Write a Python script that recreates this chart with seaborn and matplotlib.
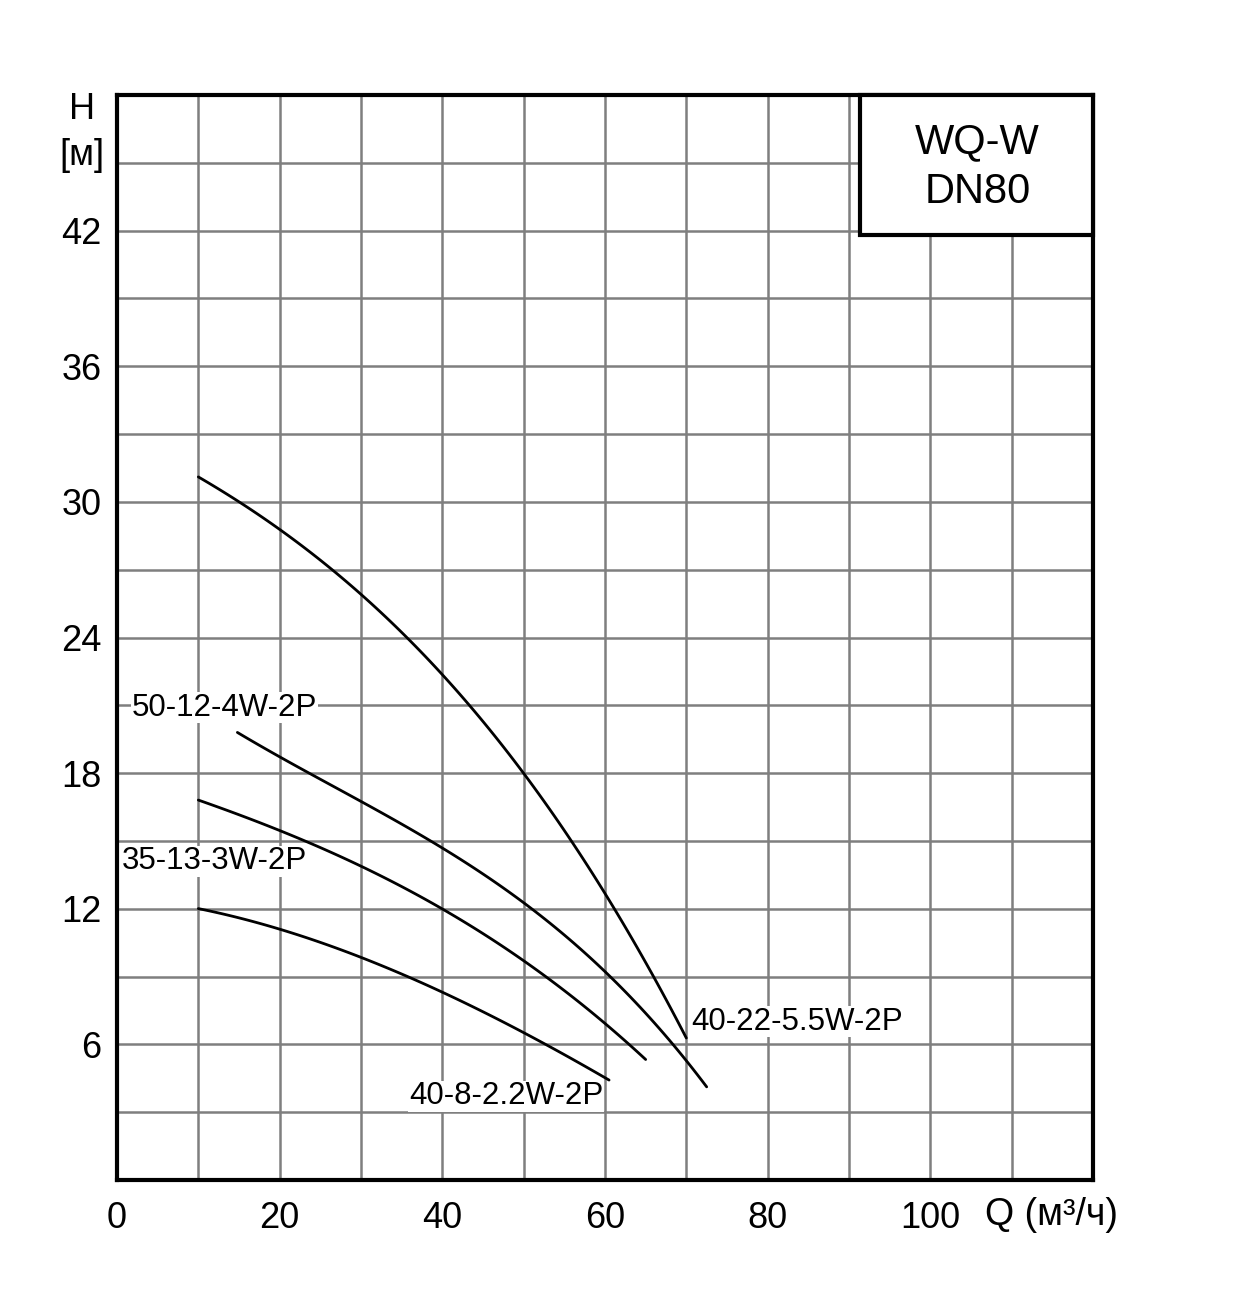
import numpy as np
import pandas as pd
import seaborn as sns
import matplotlib.pyplot as plt

# curvas H(Q)
q_5_5 = [10, 20, 30, 40, 50, 60, 70]
h_5_5 = [31.1, 28.8, 25.9, 22.3, 18.1, 12.6, 6.3]

q_4 = [14.8, 20, 30, 40, 45, 50, 60, 72.5]
h_4 = [19.8, 18.7, 16.8, 14.7, 13.5, 12.2, 9.3, 4.1]

q_3 = [10, 20, 30, 40, 50, 60, 65]
h_3 = [16.8, 15.5, 13.8, 12.1, 9.6, 7.0, 5.3]

q_2_2 = [10, 20, 30, 40, 50, 60.5]
h_2_2 = [12.0, 11.1, 9.9, 8.2, 6.6, 4.4]

nomes = ["40-22-5.5W-2P", "50-12-4W-2P", "35-13-3W-2P", "40-8-2.2W-2P"]

frames = []
for nome, q, h in zip(nomes, [q_5_5, q_4, q_3, q_2_2], [h_5_5, h_4, h_3, h_2_2]):
    frames.append(pd.DataFrame({"Q": q, "H": h, "modelo": nome}))
df = pd.concat(frames, ignore_index=True)

sns.set_style("white")
plt.rcParams['font.family'] = ['Liberation Sans', 'DejaVu Sans']
plt.rcParams['text.color'] = 'black'
plt.rcParams['xtick.color'] = 'black'
plt.rcParams['ytick.color'] = 'black'

fig = plt.figure(figsize=(12.4, 12.99), dpi=100)
ax = fig.add_axes([117 / 1240, 1 - 1180 / 1299, (1093 - 117) / 1240, (1180 - 95) / 1299])

# curvas suavizadas (polinômio de 3º grau por curva)
for nome in nomes:
    d = df[df["modelo"] == nome]
    coef = np.polyfit(d["Q"], d["H"], 3)
    xs = np.linspace(d["Q"].min(), d["Q"].max(), 100)
    sns.lineplot(x=xs, y=np.polyval(coef, xs), ax=ax, color="black", lw=2, zorder=3)

ax.set_xlim(0, 120)
ax.set_ylim(0, 48)
ax.set_xticks(np.arange(0, 121, 10), minor=True)
ax.set_yticks(np.arange(0, 49, 3), minor=True)
ax.set_xticks(np.arange(0, 101, 20))
ax.set_yticks(np.arange(6, 43, 6))
ax.grid(which="both", color="#7f7f7f", lw=1.8, zorder=0)
ax.set_axisbelow(True)
ax.tick_params(which="both", length=0, labelsize=26)
ax.tick_params(axis="x", pad=15)
ax.tick_params(axis="y", pad=11)
for s in ax.spines.values():
    s.set_color("black")
    s.set_linewidth(3)
ax.set_xlabel("")
ax.set_ylabel("")

ax.text(-0.036, 1.003, "H\n[м]", transform=ax.transAxes, ha="center", va="top",
        fontsize=26, linespacing=1.4)
ax.text(0.889, -0.0325, "Q (м³/ч)", transform=ax.transAxes, ha="left", va="center",
        fontsize=27)

lbl = dict(fontsize=22.5, color="black", zorder=4,
           bbox=dict(facecolor="white", edgecolor="none", pad=0.5))
ax.text(1.8, 20.9, "50-12-4W-2P", ha="left", va="center", **lbl)
ax.text(0.6, 14.1, "35-13-3W-2P", ha="left", va="center", **lbl)
ax.text(70.6, 7.0, "40-22-5.5W-2P", ha="left", va="center", **lbl)
ax.text(35.9, 3.7, "40-8-2.2W-2P", ha="left", va="center", **lbl)

ax.add_patch(plt.Rectangle((91.4, 41.8), 28.6, 6.2, facecolor="white", edgecolor="black",
                           lw=3, zorder=5, clip_on=False))
ax.text(105.8, 44.8, "WQ-W\nDN80", ha="center", va="center", fontsize=30,
        linespacing=1.3, zorder=6)

fig.savefig("out.png", dpi=100, facecolor="white")
